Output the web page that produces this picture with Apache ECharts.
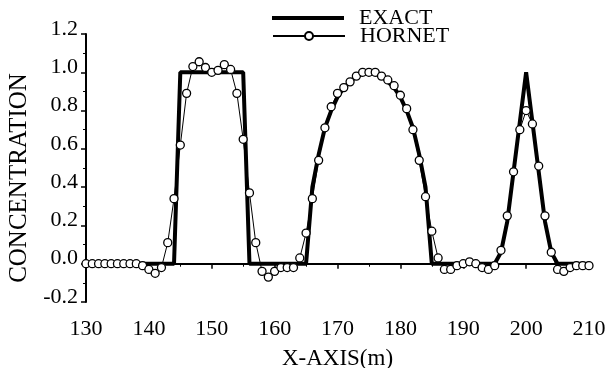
<!DOCTYPE html>
<html>
<head>
<meta charset="utf-8">
<script src="https://cdn.jsdelivr.net/npm/echarts@6/dist/echarts.min.js"></script>
<style>
  html, body { margin: 0; padding: 0; background: #fff; }
  #chart { width: 608px; height: 368px; }
</style>
</head>
<body>
<div id="chart"></div>
<script>
// exact solution, sampled along x
const exactX = [130, 144, 145, 155, 156, 165, 166, 167, 168, 169, 170, 171, 172, 173, 174, 175,
  176, 177, 178, 179, 180, 181, 182, 183, 184, 185, 195, 196, 197, 198, 199, 200,
  201, 202, 203, 204, 205, 210]
const exactY = [0, 0, 1, 1, 0, 0, 0.40, 0.57, 0.71, 0.80, 0.87, 0.92, 0.95, 0.98, 0.99, 1.0,
  0.99, 0.98, 0.95, 0.92, 0.87, 0.80, 0.71, 0.57, 0.40, 0, 0, 0.06, 0.22, 0.48, 0.74, 1.0,
  0.74, 0.48, 0.22, 0.06, 0, 0]

// HORNET result, one point per metre from 130 to 210
const hornetX = []
for (let i = 130; i <= 210; i++) hornetX.push(i)
const hornetY = [
  0, 0, 0, 0, 0, 0, 0, 0, 0, -0.01,            // 130-139
  -0.03, -0.05, -0.02, 0.11, 0.34, 0.62, 0.89, 1.03, 1.055, 1.025, // 140-149
  1.0, 1.01, 1.04, 1.015, 0.89, 0.65, 0.37, 0.11, -0.04, -0.07,  // 150-159
  -0.04, -0.02, -0.02, -0.02, 0.03, 0.16, 0.34, 0.54, 0.71, 0.82, // 160-169
  0.89, 0.92, 0.95, 0.98, 1.0, 1.0, 1.0, 0.98, 0.96, 0.93,        // 170-179
  0.88, 0.81, 0.70, 0.54, 0.35, 0.17, 0.03, -0.03, -0.03, -0.01,  // 180-189
  0.0, 0.01, 0.0, -0.02, -0.03, -0.01, 0.07, 0.25, 0.48, 0.70,    // 190-199
  0.80, 0.73, 0.51, 0.25, 0.06, -0.03, -0.04, -0.02, -0.01, -0.01, // 200-209
  -0.01                                                           // 210
]

const font = 'Liberation Serif'

const chart = echarts.init(document.getElementById('chart'))
chart.setOption({
  animation: false,
  textStyle: { fontFamily: font, color: '#000' },
  grid: { left: 86, right: 19, top: 34, bottom: 66, outerBoundsMode: 'none' },
  // two legends so each row can sit where the original has it
  legend: [
    {
      left: 272,
      top: 7,
      padding: 0,
      itemWidth: 72,
      itemHeight: 10,
      textStyle: { fontFamily: font, fontSize: 22, color: '#000', padding: [16, 0, 0, 10] },
      data: [{ name: 'EXACT', icon: 'path://M0,0H72V4H0Z' }]
    },
    {
      left: 272,
      top: 25,
      padding: 0,
      itemWidth: 72,
      itemHeight: 10,
      textStyle: { fontFamily: font, fontSize: 22, color: '#000', padding: [6, 0, 0, 10] },
      data: ['HORNET']
    }
  ],
  xAxis: {
    type: 'value',
    min: 130,
    max: 210,
    interval: 10,
    name: 'X-AXIS(m)',
    nameLocation: 'middle',
    nameGap: 45,
    nameTextStyle: { fontFamily: font, fontSize: 23, color: '#000' },
    axisLine: { lineStyle: { color: '#000', width: 2 } },
    axisTick: { length: 5, lineStyle: { color: '#000', width: 1.5 } },
    minorTick: { show: true, splitNumber: 2, length: 3, lineStyle: { color: '#000', width: 1 } },
    splitLine: { show: false },
    axisLabel: { fontFamily: font, fontSize: 22, color: '#000', margin: 16 }
  },
  yAxis: {
    type: 'value',
    min: -0.2,
    max: 1.2,
    interval: 0.2,
    name: 'CONCENTRATION',
    nameLocation: 'middle',
    nameRotate: 90,
    nameGap: 42,
    nameTextStyle: { fontFamily: font, fontSize: 25, color: '#000', padding: [0, 20, 0, 0] },
    axisLine: { show: true, lineStyle: { color: '#000', width: 2 } },
    axisTick: { show: true, length: 5, lineStyle: { color: '#000', width: 1.5 } },
    minorTick: { show: true, splitNumber: 2, length: 3, lineStyle: { color: '#000', width: 1 } },
    splitLine: { show: false },
    axisLabel: {
      fontFamily: font, fontSize: 22, color: '#000', margin: 8,
      verticalAlign: 'bottom',
      lineHeight: 10,
      formatter: v => v.toFixed(1)
    }
  },
  series: [
    {
      name: 'EXACT',
      type: 'line',
      symbol: 'none',
      lineStyle: { color: '#000', width: 4 },
      itemStyle: { color: '#000' },
      data: exactX.map((x, i) => [x, exactY[i]]),
      z: 2
    },
    {
      name: 'HORNET',
      type: 'line',
      symbol: 'circle',
      symbolSize: 8,
      lineStyle: { color: '#000', width: 1 },
      itemStyle: { color: '#fff', borderColor: '#000', borderWidth: 1.3 },
      data: hornetX.map((x, i) => [x, hornetY[i]]),
      z: 3
    }
  ]
})
</script>
</body>
</html>
